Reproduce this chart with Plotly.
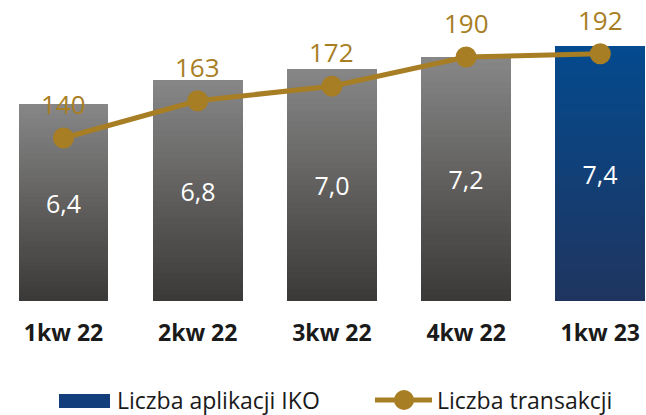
import plotly.graph_objects as go

# ---- data ----
categories = ["1kw 22", "2kw 22", "3kw 22", "4kw 22", "1kw 23"]
apps = [6.4, 6.8, 7.0, 7.2, 7.4]          # Liczba aplikacji IKO
transactions = [140, 163, 172, 190, 192]  # Liczba transakcji
series_names = ["Liczba aplikacji IKO", "Liczba transakcji"]

# ---- style ----
W, H = 646, 415
M_B = 114
PLOT_H = H - M_B
Y_MIN, Y_MAX = 3.0, 3.0 + PLOT_H / 58.0
Y2_MIN, Y2_MAX = 39.4, 140 + 138 / 1.62
X_MIN = -63.5 / 134.2
X_MAX = X_MIN + W / 134.2
BAR_W = 0.67
GOLD = "#A87E24"
FONT = "Open Sans"
GRAY_TOP, GRAY_BOT = (134, 134, 134), (60, 58, 56)
BLUE_TOP, BLUE_BOT = (4, 74, 142), (31, 53, 96)
N_SEG = 40


def mix(c1, c2, t):
    return "rgb(%d,%d,%d)" % tuple(round(a + (b - a) * t) for a, b in zip(c1, c2))


def fmt(v):
    return f"{v:.1f}".replace(".", ",")


fig = go.Figure()

# gradient body of bars: each bar split into thin stacked slices
for k in range(N_SEG):
    t = k / (N_SEG - 1)
    heights = [(v - Y_MIN) / N_SEG for v in apps]
    bases = [Y_MIN + k * h for h in heights]
    colors = [mix(BLUE_BOT, BLUE_TOP, t) if i == len(apps) - 1 else mix(GRAY_BOT, GRAY_TOP, t)
              for i in range(len(apps))]
    fig.add_trace(go.Bar(
        x=categories, y=[h * 1.02 for h in heights], base=bases, width=BAR_W,
        marker=dict(color=colors, line=dict(width=0)),
        showlegend=False, hoverinfo="skip",
    ))

# main bar trace carrying the values and labels
fig.add_trace(go.Bar(
    x=categories, y=[v - Y_MIN for v in apps], base=Y_MIN, width=BAR_W,
    name=series_names[0],
    marker=dict(color="rgba(0,0,0,0)", line=dict(width=0)),
    text=[fmt(v) for v in apps], textposition="inside", insidetextanchor="middle",
    textfont=dict(family=FONT, size=25, color="white"),
    customdata=apps, hovertemplate="%{x}: %{customdata}<extra></extra>",
    showlegend=False,
))

# line
fig.add_trace(go.Scatter(
    x=categories, y=transactions, yaxis="y2", name=series_names[1],
    mode="lines+markers",
    line=dict(color=GOLD, width=5),
    marker=dict(color=GOLD, size=21),
    showlegend=False,
))

annotations = []
for c, v in zip(categories, transactions):
    annotations.append(dict(
        x=c, y=v, xref="x", yref="y2", text=str(v), showarrow=False,
        yshift=34, font=dict(family=FONT, size=26, color=GOLD),
    ))


# custom legend (pixel positions converted to paper coords)
def px_x(p):
    return p / W


def px_y(p):
    return (PLOT_H - p) / PLOT_H


LEG_Y = 400
shapes = [
    dict(type="rect", xref="paper", yref="paper",
         x0=px_x(59), x1=px_x(110), y0=px_y(408), y1=px_y(394),
         fillcolor="#123f7c", line=dict(width=0)),
    dict(type="line", xref="paper", yref="paper",
         x0=px_x(375), x1=px_x(432), y0=px_y(LEG_Y), y1=px_y(LEG_Y),
         line=dict(color=GOLD, width=5)),
    dict(type="circle", xref="paper", yref="paper",
         x0=px_x(394), x1=px_x(414), y0=px_y(LEG_Y + 10), y1=px_y(LEG_Y - 10),
         fillcolor=GOLD, line=dict(width=0)),
]
annotations += [
    dict(x=px_x(115), y=px_y(LEG_Y), xref="paper", yref="paper", text=series_names[0],
         showarrow=False, xanchor="left", yanchor="middle",
         font=dict(family=FONT, size=23, color="#1a1a1a")),
    dict(x=px_x(435), y=px_y(LEG_Y), xref="paper", yref="paper", text=series_names[1],
         showarrow=False, xanchor="left", yanchor="middle",
         font=dict(family=FONT, size=23, color="#1a1a1a")),
]

fig.update_layout(
    width=W, height=H,
    margin=dict(l=0, r=0, t=0, b=M_B, pad=0),
    paper_bgcolor="white", plot_bgcolor="white",
    barmode="overlay", bargap=0,
    showlegend=False,
    xaxis=dict(range=[X_MIN, X_MAX], showgrid=False, zeroline=False, showline=False,
               ticks="", ticklabelstandoff=16,
               tickfont=dict(family=FONT, size=23, color="#1a1a1a", weight="bold")),
    yaxis=dict(range=[Y_MIN, Y_MAX], visible=False, showgrid=False),
    yaxis2=dict(range=[Y2_MIN, Y2_MAX], overlaying="y", visible=False, showgrid=False),
    shapes=shapes, annotations=annotations,
)

fig.write_html("out.html", config={"displayModeBar": False},
               post_script="document.body.style.margin='0';")
